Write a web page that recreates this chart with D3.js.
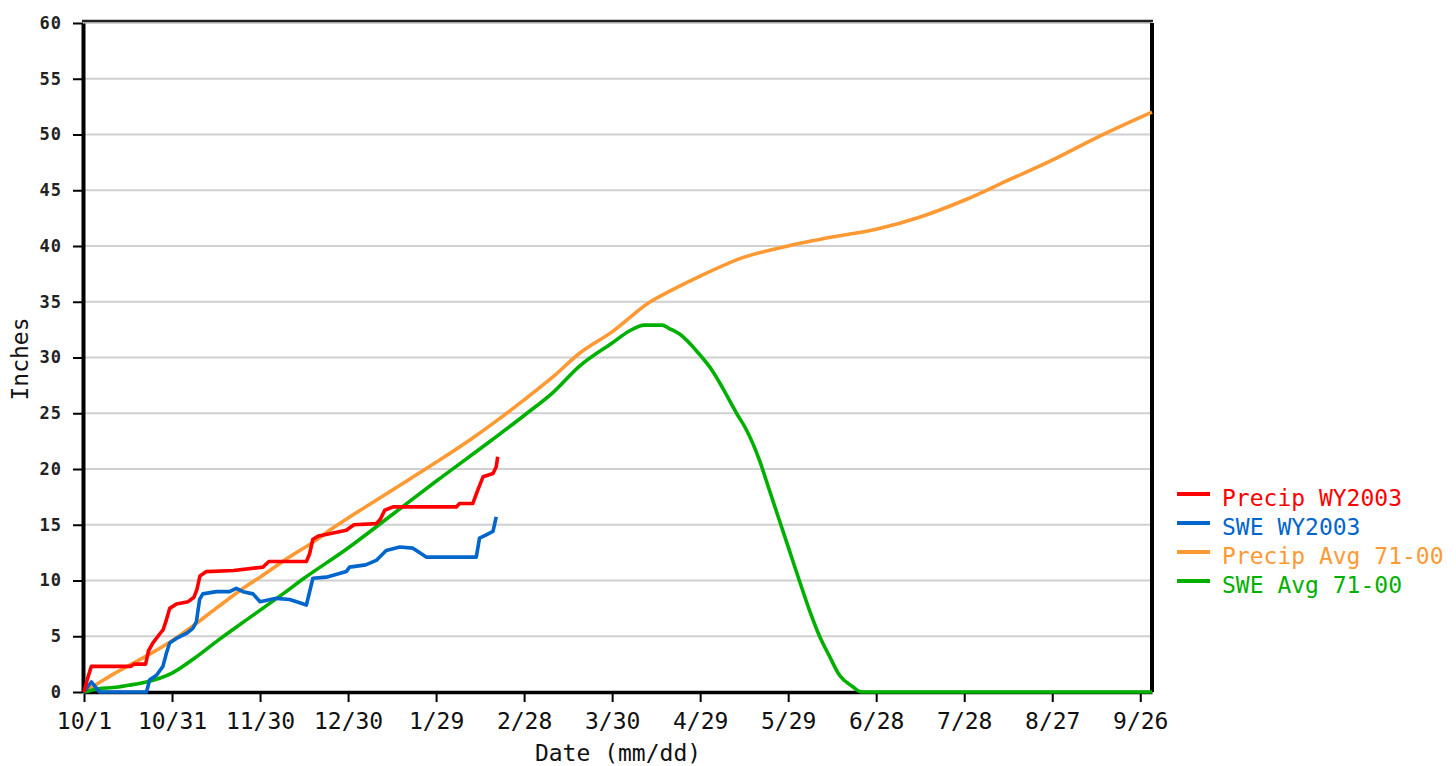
<!DOCTYPE html>
<html>
<head>
<meta charset="utf-8">
<script src="https://cdn.jsdelivr.net/npm/d3@7"></script>
<style>
    body { margin: 0; background: #fff; }
    text { font-family: "DejaVu Sans Mono", "Liberation Mono", monospace; }
</style>
</head>
<body>
<svg id="chart"></svg>
<script>
// day index counted from 10/1 (water year start)
const TICK_DAYS = [0, 30, 60, 90, 120, 150, 180, 210, 240, 270, 300, 330, 360];
const TICK_LABELS = ["10/1", "10/31", "11/30", "12/30", "1/29", "2/28", "3/30",
                     "4/29", "5/29", "6/28", "7/28", "8/27", "9/26"];
const Y_TICKS = [0, 5, 10, 15, 20, 25, 30, 35, 40, 45, 50, 55, 60];

const PRECIP_AVG = [
    [0, 0], [5, 0.8], [10, 1.6], [19, 2.9], [30, 4.6], [37, 5.9], [45, 7.5], [56.5, 9.7],
    [60, 10.3], [70, 12.1], [79, 13.6], [83.7, 14.5], [90, 15.6], [105, 18.1], [120, 20.6],
    [131.5, 22.6], [140, 24.2], [150, 26.2], [160, 28.3], [169, 30.4], [180, 32.3],
    [193, 35.0], [200, 36.0], [210, 37.3], [225, 39.0], [240, 40.0], [255, 40.8],
    [270, 41.5], [285, 42.6], [300, 44.1], [315, 45.9], [330, 47.7], [345, 49.7], [364, 52.0]
];

const SWE_AVG = [
    [0, 0], [5, 0.3], [10, 0.4], [15, 0.6], [21.3, 0.9], [30, 1.7], [38, 3.1], [46, 4.7],
    [55, 6.4], [67.8, 8.8], [75, 10.2], [89.4, 12.8], [105, 15.9], [120, 18.9],
    [139, 22.6], [150, 24.8], [160, 26.9], [168.8, 29.2], [180, 31.3], [186, 32.4],
    [191, 32.9], [197, 32.9], [199.5, 32.6], [203, 32.1], [209.7, 30.3], [214.2, 28.8],
    [217.6, 27.3], [222.4, 25.0], [225.8, 23.5], [230.2, 20.8], [233.6, 18.1],
    [237, 15.4], [240.4, 12.7], [243.8, 10.0], [247.3, 7.3], [250.7, 5.0], [254.1, 3.2],
    [257.5, 1.5], [261.9, 0.5], [265, 0], [364, 0]
];

const PRECIP_WY2003 = [
    [0, 0], [1.2, 1.2], [2.5, 2.3], [16, 2.3], [17, 2.5], [21, 2.5], [22, 3.7], [23.5, 4.4],
    [25.8, 5.2], [27, 5.6], [28, 6.4], [29.2, 7.5], [31.5, 7.9], [35.5, 8.1], [37.5, 8.5],
    [38.5, 9.2], [39.5, 10.4], [41.7, 10.8], [51, 10.9], [61, 11.2], [63, 11.7],
    [75.8, 11.7], [76.9, 12.4], [78, 13.7], [80, 14.0], [83.7, 14.2], [89.4, 14.5],
    [92, 15.0], [99.6, 15.1], [101, 15.5], [102.5, 16.3], [105.3, 16.6], [126.9, 16.6],
    [128, 16.9], [132.5, 16.9], [134.2, 18.1], [136, 19.3], [139.4, 19.6], [140.5, 20.2],
    [141, 21.1]
];

const SWE_WY2003 = [
    [0, 0], [2.5, 0.9], [5.3, 0], [21.3, 0], [22.4, 1.1], [24.7, 1.5], [26.9, 2.3],
    [28.1, 3.5], [29.2, 4.4], [31.5, 4.8], [34.9, 5.25], [37.1, 5.7], [38.3, 6.3],
    [39.4, 8.3], [40.5, 8.8], [45.1, 9.0], [49.6, 9.0], [51.9, 9.3], [54.2, 9.0],
    [57.6, 8.8], [60, 8.1], [65.6, 8.4], [70.1, 8.3], [73.5, 8.0], [75.8, 7.8], [77, 9.1],
    [78, 10.2], [82.6, 10.3], [89.4, 10.8], [90.5, 11.2], [96, 11.4], [99.6, 11.8],
    [103, 12.7], [107.6, 13.0], [112.1, 12.9], [115.5, 12.3], [116.6, 12.1],
    [133.7, 12.1], [134.8, 13.8], [137.1, 14.1], [139.4, 14.4], [140.5, 15.7]
];

const SERIES_NAMES = ["Precip WY2003", "SWE WY2003", "Precip Avg 71-00", "SWE Avg 71-00"];
const SERIES_COLORS = ["#ff0000", "#0066cc", "#ff9933", "#00b000"];

const WIDTH = 1456;
const HEIGHT = 766;
const LEFT = 84, RIGHT = 1152, TOP = 23, BOTTOM = 692;

window.onload = function(){
    drawChart();
};

function drawChart(){
    let xScale = d3.scaleLinear()
        .domain([0, 364])
        .range([LEFT, RIGHT]);

    let yScale = d3.scaleLinear()
        .domain([0, 60])
        .range([BOTTOM, TOP]);

    let svg = d3.select("#chart")
        .attr("width", WIDTH)
        .attr("height", HEIGHT);

    // horizontal grid
    svg.selectAll("line.grid")
        .data(Y_TICKS.filter(function(d){ return d > 0; }))
        .enter()
        .append("line")
        .attr("class", "grid")
        .attr("x1", LEFT)
        .attr("x2", RIGHT)
        .attr("y1", function(d){ return yScale(d); })
        .attr("y2", function(d){ return yScale(d); })
        .style("stroke", "#d0d0d0")
        .style("stroke-width", 2);

    // top border and right axis
    svg.append("line")
        .attr("x1", LEFT - 2).attr("x2", RIGHT + 1)
        .attr("y1", TOP - 2).attr("y2", TOP - 2)
        .style("stroke", "#222").style("stroke-width", 2.5);
    svg.append("line")
        .attr("x1", RIGHT).attr("x2", RIGHT)
        .attr("y1", TOP).attr("y2", BOTTOM)
        .style("stroke", "#000").style("stroke-width", 4);

    let yAxis = d3.axisLeft(yScale)
        .tickValues(Y_TICKS)
        .tickSize(10)
        .tickSizeOuter(0)
        .tickPadding(11);

    let gy = svg.append("g")
        .attr("transform", "translate(" + (LEFT - 1) + ",0)")
        .call(yAxis);
    gy.select(".domain").style("stroke", "#000").style("stroke-width", 4);
    gy.selectAll(".tick line").style("stroke", "#000").style("stroke-width", 2);
    gy.selectAll(".tick text")
        .attr("font-size", "17px")
        .attr("font-family", "DejaVu Sans Mono")
        .attr("font-weight", "bold")
        .attr("letter-spacing", "1px")
        .attr("fill", "#222");

    let xAxis = d3.axisBottom(xScale)
        .tickValues(TICK_DAYS)
        .tickFormat(function(d, i){ return TICK_LABELS[i]; })
        .tickSize(10)
        .tickSizeOuter(0)
        .tickPadding(11);

    let gx = svg.append("g")
        .attr("transform", "translate(0," + BOTTOM + ")")
        .call(xAxis);
    gx.select(".domain").style("stroke", "#000").style("stroke-width", 3.5);
    gx.selectAll(".tick line").style("stroke", "#000").style("stroke-width", 2);
    gx.selectAll(".tick text")
        .attr("font-size", "23px")
        .attr("font-family", "DejaVu Sans Mono")
        .attr("fill", "#111");

    // axis titles
    svg.append("text")
        .text("Date (mm/dd)")
        .attr("x", 618)
        .attr("y", 761)
        .attr("font-size", "23px")
        .attr("fill", "#111")
        .style("text-anchor", "middle");

    svg.append("text")
        .text("Inches")
        .attr("transform", "translate(28,359) rotate(-90)")
        .attr("font-size", "23px")
        .attr("fill", "#111")
        .style("text-anchor", "middle");

    let line = d3.line()
        .x(function(d){ return xScale(d[0]); })
        .y(function(d){ return yScale(d[1]); });

    let smooth = d3.line()
        .curve(d3.curveMonotoneX)
        .x(function(d){ return xScale(d[0]); })
        .y(function(d){ return yScale(d[1]); });

    // draw order: averages below, current year on top
    let drawn = [
        [PRECIP_AVG, SERIES_COLORS[2], smooth],
        [SWE_AVG, SERIES_COLORS[3], smooth],
        [SWE_WY2003, SERIES_COLORS[1], line],
        [PRECIP_WY2003, SERIES_COLORS[0], line]
    ];
    drawn.forEach(function(s){
        svg.append("path")
            .attr("d", s[2](s[0]))
            .style("fill", "none")
            .style("stroke", s[1])
            .style("stroke-width", 3.6)
            .style("stroke-linejoin", "round");
    });

    // legend
    let legend = svg.selectAll("g.legend")
        .data(SERIES_NAMES)
        .enter()
        .append("g")
        .attr("class", "legend")
        .attr("transform", function(d, i){ return "translate(1177," + (494 + i * 29) + ")"; });

    legend.append("line")
        .attr("x1", 0).attr("x2", 33)
        .attr("y1", 0).attr("y2", 0)
        .style("stroke", function(d, i){ return SERIES_COLORS[i]; })
        .style("stroke-width", 4);

    legend.append("text")
        .text(function(d){ return d; })
        .attr("x", 45)
        .attr("y", 12)
        .attr("font-size", "23px")
        .attr("fill", function(d, i){ return SERIES_COLORS[i]; });
}
</script>
</body>
</html>
